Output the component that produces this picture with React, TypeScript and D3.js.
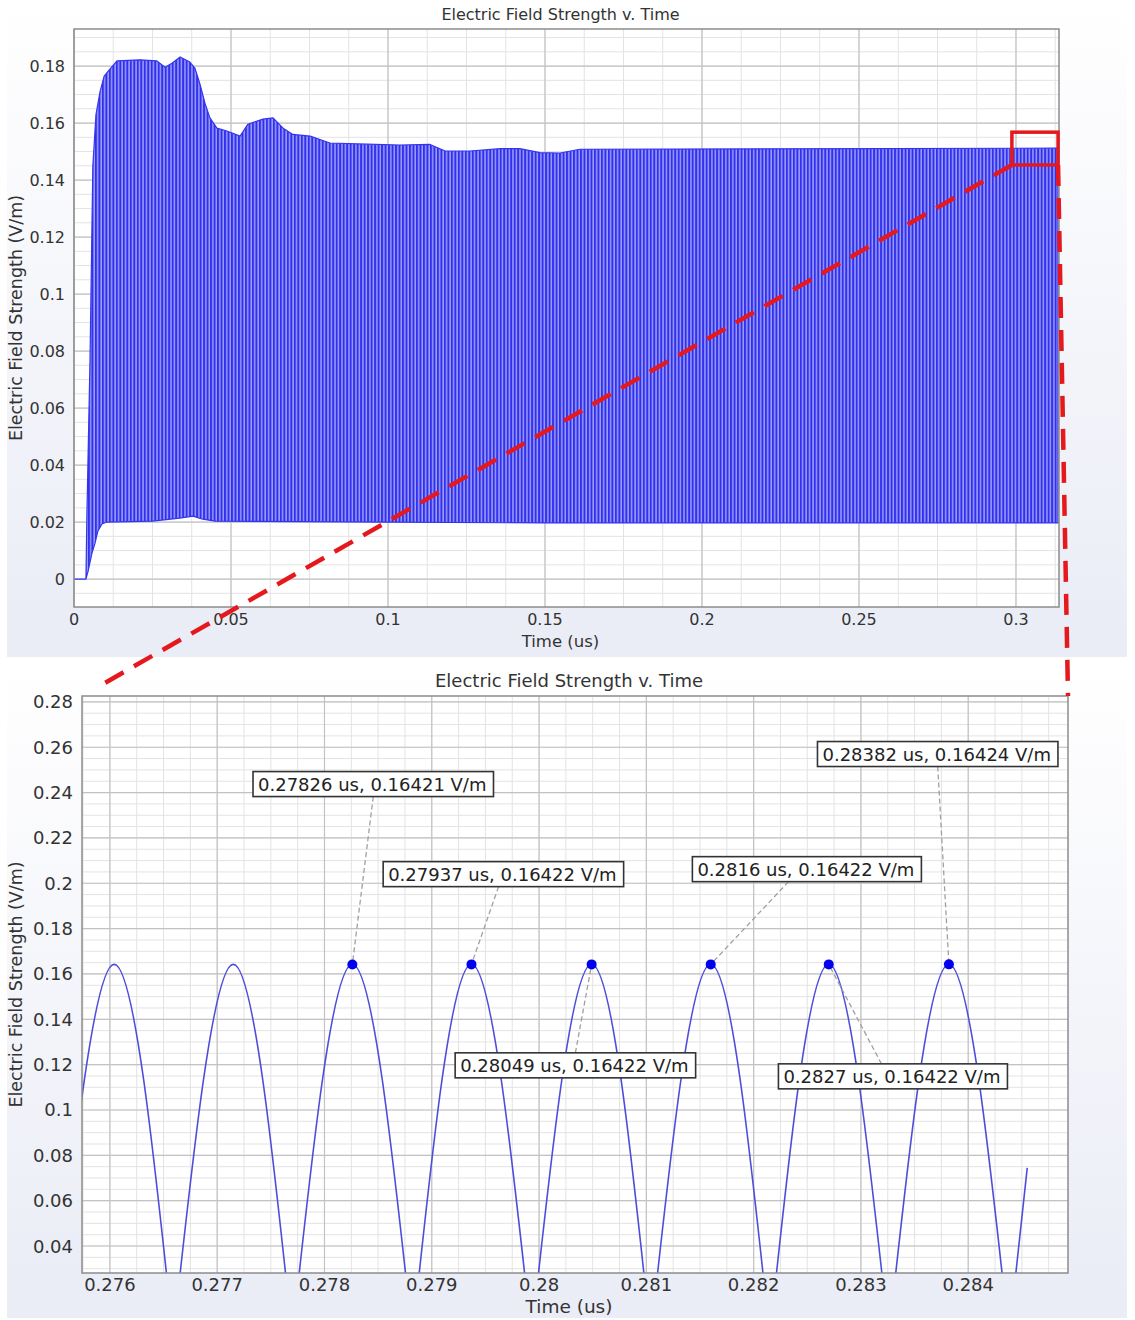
import * as d3 from "d3";
import { useEffect, useRef } from "react";

// overview plot: envelope of the oscillating field
const upperTimes = [
  0, 0.0038, 0.0041, 0.0051, 0.006, 0.007, 0.0083, 0.0096, 0.0115, 0.0137, 0.021, 0.0264, 0.029, 0.0312,
  0.0338, 0.0369, 0.0385, 0.0401, 0.0417, 0.0433, 0.0455, 0.0487, 0.0529, 0.0554, 0.0602, 0.0634, 0.0666,
  0.0697, 0.0752, 0.0815, 0.0933, 0.1038, 0.1134, 0.1182, 0.1261, 0.1357, 0.142, 0.1484, 0.1548, 0.1611, 0.3134,
];
const upperValues = [
  0, 0, 0.022, 0.077, 0.145, 0.163, 0.171, 0.1765, 0.179, 0.1818, 0.1822, 0.1818, 0.1796, 0.181,
  0.1832, 0.1814, 0.1793, 0.1737, 0.167, 0.1618, 0.1582, 0.1572, 0.1554, 0.1596, 0.1614, 0.1618, 0.1582,
  0.156, 0.1554, 0.153, 0.1526, 0.1523, 0.1525, 0.1502, 0.1502, 0.151, 0.151, 0.1496, 0.1495, 0.1508, 0.1512,
];
const lowerTimes = [0, 0.0038, 0.0045, 0.0057, 0.0067, 0.0076, 0.0089, 0.0105, 0.025, 0.0337, 0.0379, 0.041, 0.045, 0.1, 0.15, 0.3134];
const lowerValues = [0, 0, 0.0028, 0.009, 0.0126, 0.0168, 0.0193, 0.02, 0.0203, 0.0214, 0.0221, 0.021, 0.0203, 0.02, 0.0197, 0.0197];

// zoomed plot: peaks and troughs of the rectified wave
const peakTimes = [0.27604, 0.27715, 0.27826, 0.27937, 0.28049, 0.2816, 0.2827, 0.28382];
const peakValues = [0.16421, 0.16421, 0.16421, 0.16422, 0.16422, 0.16422, 0.16422, 0.16424];
const troughTimes = [0.27548, 0.27659, 0.2777, 0.27882, 0.27993, 0.28104, 0.28215, 0.28326, 0.28438];
const troughValues = [0, 0, 0, 0, 0, 0, 0, 0, 0];
const endTime = 0.28455;
const endValue = 0.0745;

// annotated peaks (index into peakTimes), label box top-left in data units, leader anchor along box edge
const markedPeaks = [2, 3, 4, 5, 6, 7];
const labelTimes = [0.277334, 0.278547, 0.279218, 0.281429, 0.282231, 0.282595];
const labelValues = [0.24927, 0.20954, 0.12521, 0.21174, 0.12035, 0.26252];
const leaderAnchors = [0.5, 0.48, 0.5, 0.42, 0.45, 0.5];

// red highlight box on the overview (data units)
const zoomBoxTimes = [0.2987, 0.3134];
const zoomBoxValues = [0.1453, 0.1568];

const TITLE = "Electric Field Strength v. Time";
const Y_LABEL = "Electric Field Strength (V/m)";
const X_LABEL = "Time (us)";
const FONT = "DejaVu Sans, Verdana, sans-serif";

type Frame = {
  left: number; top: number; right: number; bottom: number;
  xDomain: [number, number]; yDomain: [number, number];
  xCount: number; yCount: number; fs: number; id: string;
};

function drawFrame(svg: d3.Selection<SVGSVGElement, unknown, null, undefined>, f: Frame) {
  const x = d3.scaleLinear().domain(f.xDomain).range([f.left, f.right]);
  const y = d3.scaleLinear().domain(f.yDomain).range([f.bottom, f.top]);

  svg.append("rect").attr("x", f.left).attr("y", f.top)
    .attr("width", f.right - f.left).attr("height", f.bottom - f.top).attr("fill", "#fff");

  const minor = (d0: number, d1: number, n: number) => {
    const step = d3.tickStep(d0, d1, n) / 4;
    return d3.range(Math.ceil(d0 / step), Math.floor(d1 / step) + 1).map((i) => i * step);
  };
  const g = svg.append("g");
  minor(f.xDomain[0], f.xDomain[1], f.xCount).forEach((v) =>
    g.append("line").attr("x1", x(v)).attr("x2", x(v)).attr("y1", f.top).attr("y2", f.bottom)
      .attr("stroke", "#e3e3e3").attr("stroke-width", 1));
  minor(f.yDomain[0], f.yDomain[1], f.yCount).forEach((v) =>
    g.append("line").attr("y1", y(v)).attr("y2", y(v)).attr("x1", f.left).attr("x2", f.right)
      .attr("stroke", "#e3e3e3").attr("stroke-width", 1));

  const fmt = d3.format("~g");
  x.ticks(f.xCount).forEach((v) => {
    g.append("line").attr("x1", x(v)).attr("x2", x(v)).attr("y1", f.top).attr("y2", f.bottom)
      .attr("stroke", "#c2c2c2").attr("stroke-width", 1.2);
    svg.append("text").attr("x", x(v)).attr("y", f.bottom + 18).attr("text-anchor", "middle")
      .attr("font-family", FONT).attr("font-size", f.fs).attr("fill", "#333").text(fmt(v));
  });
  y.ticks(f.yCount).forEach((v) => {
    g.append("line").attr("y1", y(v)).attr("y2", y(v)).attr("x1", f.left).attr("x2", f.right)
      .attr("stroke", "#c2c2c2").attr("stroke-width", 1.2);
    svg.append("text").attr("x", f.left - 9).attr("y", y(v)).attr("dy", "0.36em").attr("text-anchor", "end")
      .attr("font-family", FONT).attr("font-size", f.fs).attr("fill", "#333").text(fmt(v));
  });

  const cx = (f.left + f.right) / 2 - 6;
  svg.append("text").attr("x", cx).attr("y", f.top - 9).attr("text-anchor", "middle")
    .attr("font-family", FONT).attr("font-size", f.fs).attr("fill", "#333").text(TITLE);
  svg.append("text").attr("x", cx).attr("y", f.bottom + 40).attr("text-anchor", "middle")
    .attr("font-family", FONT).attr("font-size", f.fs + 0.5).attr("fill", "#333").text(X_LABEL);
  const cy = (f.top + f.bottom) / 2;
  svg.append("text").attr("transform", `translate(16,${cy}) rotate(-90)`).attr("dy", "0.36em")
    .attr("text-anchor", "middle").attr("font-family", FONT).attr("font-size", 17.5).attr("fill", "#333")
    .text(Y_LABEL);

  svg.select("defs").append("clipPath").attr("id", f.id)
    .append("rect").attr("x", f.left).attr("y", f.top)
    .attr("width", f.right - f.left).attr("height", f.bottom - f.top);

  return { x, y };
}

export default function App() {
  const ref = useRef<SVGSVGElement | null>(null);

  useEffect(() => {
    if (!ref.current) return;
    const svg = d3.select(ref.current);
    svg.selectAll("*").remove();
    const defs = svg.append("defs");

    const grad = defs.append("linearGradient").attr("id", "panelFill")
      .attr("x1", 0).attr("y1", 0).attr("x2", 0).attr("y2", 1);
    grad.append("stop").attr("offset", "0%").attr("stop-color", "#ffffff");
    grad.append("stop").attr("offset", "100%").attr("stop-color", "#eaecf6");
    svg.append("rect").attr("x", 7).attr("y", 0).attr("width", 1120).attr("height", 657).attr("fill", "url(#panelFill)");
    svg.append("rect").attr("x", 7).attr("y", 661).attr("width", 1120).attr("height", 657).attr("fill", "url(#panelFill)");

    // ---------- overview ----------
    const top = drawFrame(svg, {
      left: 74, top: 29, right: 1059, bottom: 607,
      xDomain: [0, 0.3137], yDomain: [-0.0098, 0.193],
      xCount: 7, yCount: 10, fs: 16, id: "clipTop",
    });

    const period = (peakTimes[peakTimes.length - 1] - peakTimes[0]) / (peakTimes.length - 1);
    const cyclePx = top.x(period) - top.x(0);
    const pat = defs.append("pattern").attr("id", "cycles").attr("patternUnits", "userSpaceOnUse")
      .attr("x", top.x(0)).attr("y", 0).attr("width", cyclePx).attr("height", 20);
    pat.append("rect").attr("width", cyclePx).attr("height", 20).attr("fill", "#3030ee");
    pat.append("rect").attr("x", cyclePx * 0.6).attr("width", 1.25).attr("height", 20).attr("fill", "#b3b4fa");

    const outline: [number, number][] = [
      ...upperTimes.map((t, i) => [t, upperValues[i]] as [number, number]),
      ...lowerTimes.map((t, i) => [t, lowerValues[i]] as [number, number]).reverse(),
    ];
    const poly = d3.line<[number, number]>().x((d) => top.x(d[0])).y((d) => top.y(d[1]));
    svg.append("path").attr("clip-path", "url(#clipTop)").attr("d", poly(outline) + "Z")
      .attr("fill", "url(#cycles)").attr("stroke", "#3434ee").attr("stroke-width", 1.2)
      .attr("stroke-linejoin", "round");

    svg.append("rect").attr("x", 74).attr("y", 29).attr("width", 1059 - 74).attr("height", 607 - 29)
      .attr("fill", "none").attr("stroke", "#8c8c8c").attr("stroke-width", 1.5);

    // ---------- zoomed ----------
    const bot = drawFrame(svg, {
      left: 82, top: 696, right: 1068, bottom: 1273,
      xDomain: [0.27574, 0.28493], yDomain: [0.0281, 0.2826],
      xCount: 9, yCount: 12, fs: 18, id: "clipBot",
    });

    const arch = d3.line<[number, number]>().x((d) => bot.x(d[0])).y((d) => bot.y(d[1])).curve(d3.curveNatural);
    const straight = d3.line<[number, number]>().x((d) => bot.x(d[0])).y((d) => bot.y(d[1]));
    let wave = "";
    peakTimes.forEach((t, i) => {
      wave += arch([
        [troughTimes[i], troughValues[i]],
        [t, peakValues[i]],
        [troughTimes[i + 1], troughValues[i + 1]],
      ]);
    });
    const last = troughTimes.length - 1;
    wave += straight([[troughTimes[last], troughValues[last]], [endTime, endValue]]);
    svg.append("path").attr("clip-path", "url(#clipBot)").attr("d", wave)
      .attr("fill", "none").attr("stroke", "#4d4ddc").attr("stroke-width", 1.6);

    svg.append("rect").attr("x", 82).attr("y", 696).attr("width", 1068 - 82).attr("height", 1273 - 696)
      .attr("fill", "none").attr("stroke", "#8c8c8c").attr("stroke-width", 1.5);

    const notes = svg.append("g");
    markedPeaks.forEach((p, i) => {
      const px = bot.x(peakTimes[p]);
      const py = bot.y(peakValues[p]);
      const bx = bot.x(labelTimes[i]);
      const by = bot.y(labelValues[i]);
      const label = notes.append("g");
      const text = label.append("text").attr("x", bx + 5).attr("y", by + 19)
        .attr("font-family", FONT).attr("font-size", 18).attr("fill", "#222")
        .text(`${peakTimes[p]} us, ${peakValues[p]} V/m`);
      const w = (text.node() as SVGTextElement).getComputedTextLength() + 12;
      const h = 25;
      const above = by + h < py;
      const lx = bx + w * leaderAnchors[i];
      const ly = above ? by + h : by;
      notes.insert("line", ":first-child").attr("x1", lx).attr("y1", ly).attr("x2", px).attr("y2", py)
        .attr("stroke", "#a0a0a0").attr("stroke-width", 1.3).attr("stroke-dasharray", "5,3");
      label.insert("rect", "text").attr("x", bx).attr("y", by).attr("width", w).attr("height", h)
        .attr("fill", "#fff").attr("stroke", "#333").attr("stroke-width", 1.6);
      notes.append("circle").attr("cx", px).attr("cy", py).attr("r", 5).attr("fill", "#0000ee");
    });

    // ---------- red zoom indicator ----------
    const red = "#e5191d";
    const rx0 = top.x(zoomBoxTimes[0]);
    const rx1 = top.x(zoomBoxTimes[1]);
    const ry0 = top.y(zoomBoxValues[1]);
    const ry1 = top.y(zoomBoxValues[0]);
    svg.append("rect").attr("x", rx0).attr("y", ry0).attr("width", rx1 - rx0).attr("height", ry1 - ry0)
      .attr("fill", "none").attr("stroke", red).attr("stroke-width", 3.5);
    const ex = 82 + (rx0 - 82) * 0.014;
    const ey = 696 + (ry1 - 696) * 0.014;
    svg.append("line").attr("x1", rx0).attr("y1", ry1).attr("x2", ex).attr("y2", ey)
      .attr("stroke", red).attr("stroke-width", 4.5).attr("stroke-dasharray", "21,12");
    svg.append("line").attr("x1", rx1).attr("y1", ry1).attr("x2", 1068).attr("y2", 696)
      .attr("stroke", red).attr("stroke-width", 4.5).attr("stroke-dasharray", "21,12");
  }, []);

  return (
    <svg ref={ref} width={1135} height={1320}
      style={{ position: "absolute", left: 0, top: 0, display: "block" }}
      role="img" aria-label="Electric field strength over time" />
  );
}
